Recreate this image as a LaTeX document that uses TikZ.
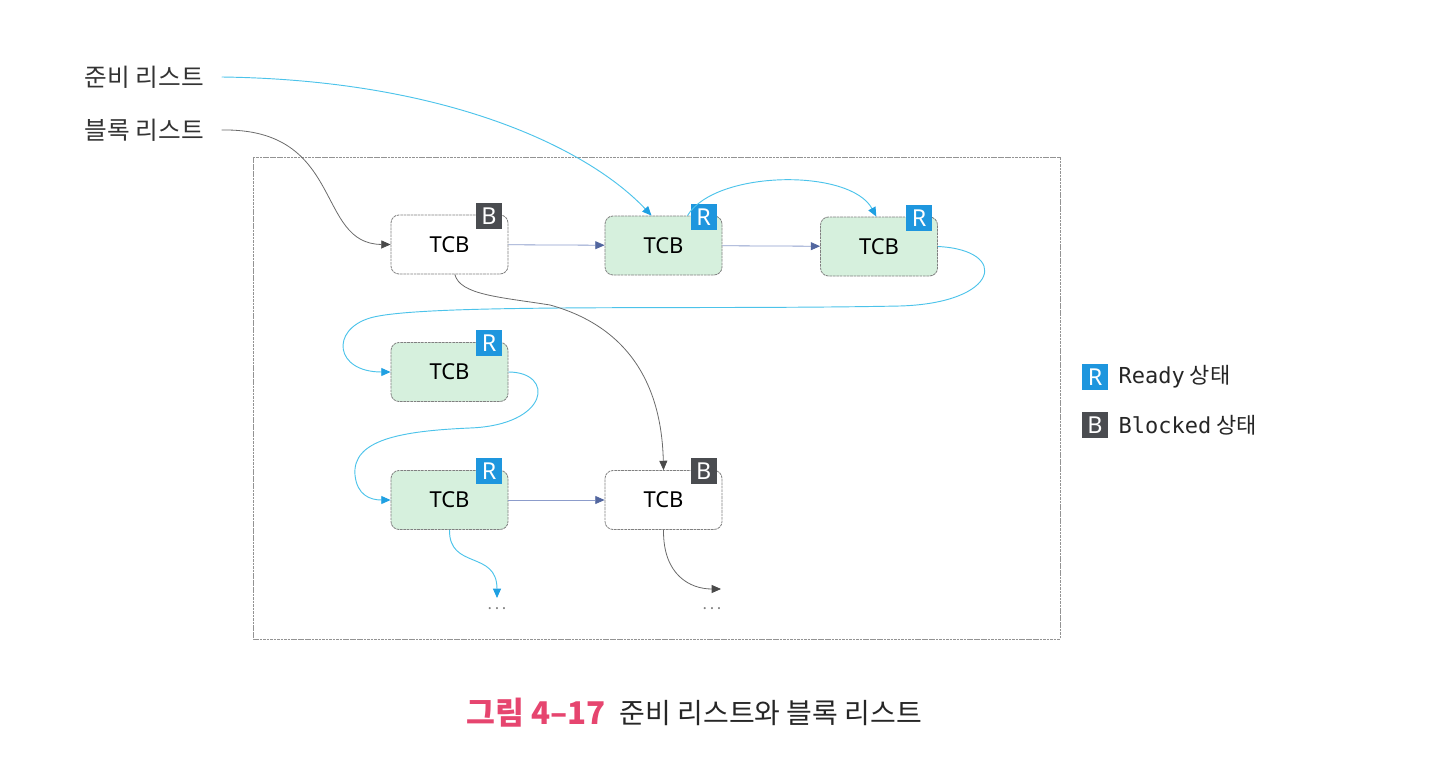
\documentclass[tikz,border=0pt]{standalone}
\usepackage{fontspec}
\setmainfont{Noto Sans CJK KR}
\newfontfamily\latfont{Noto Sans}
\newfontfamily\monofont{DejaVu Sans Mono}
\usetikzlibrary{arrows.meta}
\definecolor{readyblue}{HTML}{1E96DE}
\definecolor{blockgray}{HTML}{4A4C50}
\definecolor{tcbgreen}{HTML}{D6F0DD}
\definecolor{linkcyan}{HTML}{4CC3EA}
\definecolor{tipcyan}{HTML}{1FA0E2}
\definecolor{nextblue}{HTML}{8C9CCB}
\definecolor{tipblue}{HTML}{52669F}
\definecolor{linkgray}{HTML}{6A6A6A}
\definecolor{tipgray}{HTML}{4A4A4A}
\definecolor{captionpink}{HTML}{E6456F}
\tikzset{
  tcb/.style={draw=gray, dash pattern=on 2pt off 0.6pt, line width=0.6pt, rounded corners=6pt,
    minimum width=87.75pt, minimum height=44.25pt, font=\latfont\fontsize{16.5}{16.5}\selectfont},
  ready/.style={tcb, fill=tcbgreen},
  blocked/.style={tcb, fill=white},
  badge/.style={minimum size=19.5pt, inner sep=0pt, text=white, font=\latfont\fontsize{17.5}{17.5}\selectfont},
  rbadge/.style={badge, fill=readyblue},
  bbadge/.style={badge, fill=blockgray},
  cyanlink/.style={draw=linkcyan, line width=0.7pt, -{Triangle[length=7pt,width=6pt,color=tipcyan]}},
  graylink/.style={draw=linkgray, line width=0.6pt, -{Triangle[length=7pt,width=6pt,color=tipgray]}},
  nextlink/.style={draw=nextblue, line width=0.6pt, -{Triangle[length=7pt,width=6pt,color=tipblue]}},
  listlabel/.style={anchor=west, text=black!80, font=\fontsize{18.5}{18.5}\selectfont},
  more/.style={text=gray, font=\fontsize{12}{12}\selectfont}
}
\begin{document}
\begin{tikzpicture}[x=0.75pt, y=-0.75pt]
  \useasboundingbox (0,0) rectangle (1442,770);
  \draw[gray!85, dash pattern=on 2pt off 0.6pt, line width=0.6pt] (253,157) rectangle (1060,639);

  \node[listlabel] (readylist) at (80,77) {준비 리스트};
  \node[listlabel] (blocklist) at (80,130) {블록 리스트};

  \node[blocked] (t1) at (449.5,244.5) {TCB};
  \node[ready] (t2) at (663.5,245.5) {TCB};
  \node[ready] (t3) at (879,246.5) {TCB};
  \node[ready] (t4) at (449.5,372) {TCB};
  \node[ready] (t5) at (449.5,500) {TCB};
  \node[blocked] (t6) at (663.5,500) {TCB};

  \node[bbadge] (b1) at ([xshift=-14.5pt,yshift=-1pt]t1.north east) {B};
  \node[rbadge] (r2) at ([xshift=-14pt,yshift=-1pt]t2.north east) {R};
  \node[rbadge] (r3) at ([xshift=-14pt,yshift=-1pt]t3.north east) {R};
  \node[rbadge] (r4) at ([xshift=-14.5pt,yshift=-1pt]t4.north east) {R};
  \node[rbadge] (r5) at ([xshift=-14.5pt,yshift=-1pt]t5.north east) {R};
  \node[bbadge] (b6) at ([xshift=-14pt,yshift=-1pt]t6.north east) {B};

  \coordinate (readyend) at (497,598);
  \coordinate (blockend) at (721,589);
  \node[more] (readymore) at (497,609) {.\,.\,.};
  \node[more] (blockmore) at (712,609) {.\,.\,.};

  \draw[cyanlink] ([xshift=10pt]readylist.east) .. controls (450,80) and (590,150) .. ([xshift=-9pt]t2.north);
  \draw[graylink] ([xshift=10pt]blocklist.east) .. controls (345,128) and (315,244) .. (t1.west);
  \draw[nextlink] (t1) -- (t2);
  \draw[nextlink] (t2) -- (t3);
  \draw[cyanlink] ([xshift=18pt]t2.north) .. controls (715,170) and (850,168) .. ([xshift=-2pt]t3.north);
  \draw[cyanlink] (t3.east) .. controls (1010,250) and (1000,303) .. (900,306)
    .. controls (700,310) and (420,303) .. (370,318) .. controls (330,330) and (335,372) .. (t4.west);
  \draw[cyanlink] (t4.east) .. controls (555,372) and (550,425) .. (470,428)
    .. controls (400,431) and (352,440) .. (355,475) .. controls (357,495) and (370,500) .. (t5.west);
  \draw[graylink] ([xshift=4pt]t1.south) .. controls (460,295) and (500,297) .. (550,305)
    .. controls (640,330) and (662,400) .. (t6.north);
  \draw[nextlink] (t5) -- (t6);
  \draw[cyanlink] (t5.south) .. controls (449,570) and (497,550) .. (readyend);
  \draw[graylink] (t6.south) .. controls (663,575) and (690,589) .. (blockend);

  \node[rbadge] (legr) at (1095,377) {R};
  \node[anchor=west, text=black!85, font=\fontsize{16.5}{16.5}\selectfont] (legrtext) at (1114,377) {{\monofont Ready} 상태};
  \node[bbadge] (legb) at (1095,425) {B};
  \node[anchor=west, text=black!85, font=\fontsize{16.5}{16.5}\selectfont] (legbtext) at (1114,425) {{\monofont Blocked} 상태};

  \node[anchor=west, text=captionpink, font=\bfseries\fontsize{23.5}{23.5}\selectfont] (capnum) at (462,713) {그림 4–17};
  \node[anchor=west, text=black!85, font=\fontsize{21}{21}\selectfont] (captext) at (615,713) {준비 리스트와 블록 리스트};
\end{tikzpicture}
\end{document}
